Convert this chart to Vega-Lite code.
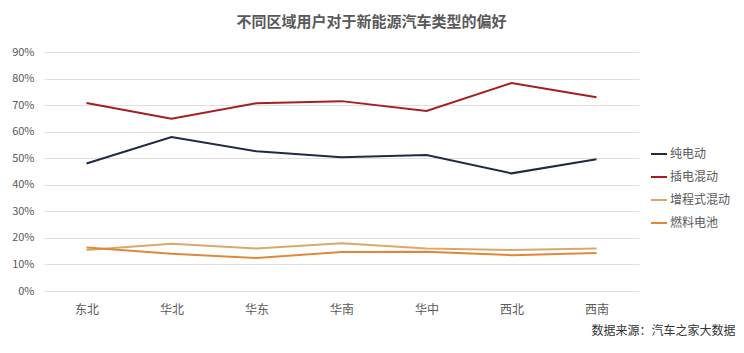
{
  "$schema": "https://vega.github.io/schema/vega-lite/v6.json",
  "width": 595,
  "height": 239,
  "autosize": {"type": "none"},
  "padding": {"left": 44, "top": 52, "right": 105, "bottom": 62},
  "background": "white",
  "title": {
    "text": "不同区域用户对于新能源汽车类型的偏好",
    "fontSize": 15,
    "fontWeight": "bold",
    "color": "#595959",
    "offset": 16,
    "anchor": "middle",
    "dx": 30
  },
  "data": {
    "values": [
      {"region": "东北", "type": "纯电动", "value": 0.480},
      {"region": "华北", "type": "纯电动", "value": 0.580},
      {"region": "华东", "type": "纯电动", "value": 0.526},
      {"region": "华南", "type": "纯电动", "value": 0.504},
      {"region": "华中", "type": "纯电动", "value": 0.512},
      {"region": "西北", "type": "纯电动", "value": 0.443},
      {"region": "西南", "type": "纯电动", "value": 0.496},
      {"region": "东北", "type": "插电混动", "value": 0.708},
      {"region": "华北", "type": "插电混动", "value": 0.649},
      {"region": "华东", "type": "插电混动", "value": 0.707},
      {"region": "华南", "type": "插电混动", "value": 0.715},
      {"region": "华中", "type": "插电混动", "value": 0.678},
      {"region": "西北", "type": "插电混动", "value": 0.783},
      {"region": "西南", "type": "插电混动", "value": 0.730},
      {"region": "东北", "type": "增程式混动", "value": 0.154},
      {"region": "华北", "type": "增程式混动", "value": 0.178},
      {"region": "华东", "type": "增程式混动", "value": 0.160},
      {"region": "华南", "type": "增程式混动", "value": 0.180},
      {"region": "华中", "type": "增程式混动", "value": 0.160},
      {"region": "西北", "type": "增程式混动", "value": 0.154},
      {"region": "西南", "type": "增程式混动", "value": 0.160},
      {"region": "东北", "type": "燃料电池", "value": 0.164},
      {"region": "华北", "type": "燃料电池", "value": 0.140},
      {"region": "华东", "type": "燃料电池", "value": 0.124},
      {"region": "华南", "type": "燃料电池", "value": 0.147},
      {"region": "华中", "type": "燃料电池", "value": 0.148},
      {"region": "西北", "type": "燃料电池", "value": 0.135},
      {"region": "西南", "type": "燃料电池", "value": 0.143}
    ]
  },
  "mark": {"type": "line", "strokeWidth": 2},
  "encoding": {
    "x": {
      "field": "region",
      "type": "nominal",
      "sort": ["东北", "华北", "华东", "华南", "华中", "西北", "西南"],
      "scale": {"type": "point", "padding": 0.5},
      "axis": {
        "title": "数据来源：汽车之家大数据",
        "titleFontSize": 12,
        "titleFontWeight": "normal",
        "titleColor": "#333333",
        "titleAnchor": "end",
        "titleAlign": "right",
        "titleBaseline": "middle",
        "titleX": 691,
        "titleY": 39,
        "labelAngle": 0,
        "labelFontSize": 12,
        "labelColor": "#595959",
        "labelPadding": 13,
        "domain": false,
        "ticks": false,
        "grid": false
      }
    },
    "y": {
      "field": "value",
      "type": "quantitative",
      "scale": {"domain": [0, 0.9], "nice": false},
      "axis": {
        "title": null,
        "format": ".0%",
        "values": [0, 0.1, 0.2, 0.3, 0.4, 0.5, 0.6, 0.7, 0.8, 0.9],
        "labelOverlap": false,
        "labelFontSize": 11,
        "labelColor": "#595959",
        "labelPadding": 10,
        "domain": false,
        "ticks": false,
        "grid": true,
        "gridColor": "#e0e0e0",
        "gridWidth": 1
      }
    },
    "color": {
      "field": "type",
      "type": "nominal",
      "scale": {
        "domain": ["纯电动", "插电混动", "增程式混动", "燃料电池"],
        "range": ["#1f2a44", "#a51e22", "#d9a96c", "#e0883a"]
      },
      "legend": {
        "title": null,
        "orient": "none",
        "legendX": 606,
        "legendY": 93,
        "symbolType": "stroke",
        "symbolSize": 256,
        "symbolStrokeWidth": 2,
        "labelFontSize": 12,
        "labelColor": "#595959",
        "labelOffset": 2,
        "rowPadding": 8
      }
    }
  },
  "config": {
    "font": "Noto Sans CJK SC",
    "view": {"stroke": null}
  }
}
